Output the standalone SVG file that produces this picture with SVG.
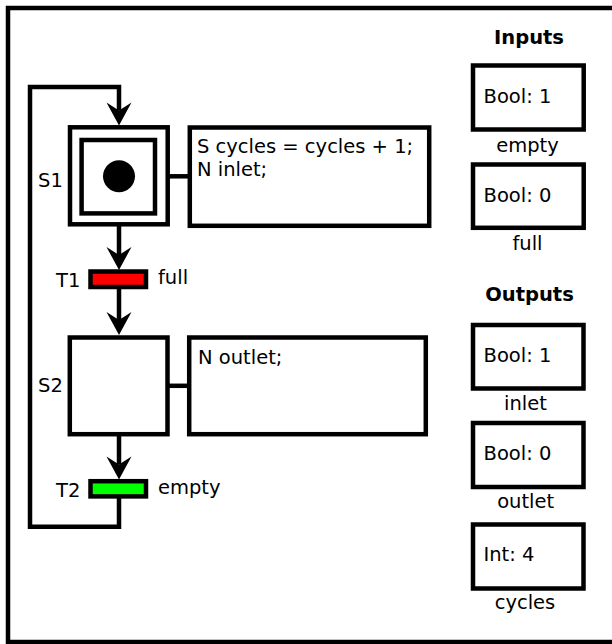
<svg xmlns="http://www.w3.org/2000/svg" width="612" height="644" viewBox="0 0 612 644">
<style>
  .box { fill: #ffffff; stroke: #000000; stroke-width: 4.5; }
  .ln { fill: none; stroke: #000000; stroke-width: 4.5; }
  .t { font-family: "DejaVu Sans", "Liberation Sans", sans-serif; font-size: 19.5px; fill: #000000; }
  .b { font-family: "DejaVu Sans", "Liberation Sans", sans-serif; font-size: 19.5px; font-weight: bold; fill: #000000; }
  .mid { text-anchor: middle; }
</style>
<defs>
  <marker id="arr" viewBox="-25 -14 27 28" refX="-15" refY="0" markerWidth="27" markerHeight="28" markerUnits="userSpaceOnUse" orient="auto">
    <path d="M0,0 L-23,-12.5 L-15,0 L-23,12.5 Z" fill="#000000"/>
  </marker>
</defs>
<rect x="0" y="0" width="612" height="644" fill="#ffffff"/>
<rect id="frame" class="box" x="8" y="8" width="620" height="634"/>

<g id="connectors">
  <path class="ln" d="M119,497 V526.7 H30 V87 H119 V110.5" marker-end="url(#arr)"/>
  <path class="ln" d="M119,226 V255" marker-end="url(#arr)"/>
  <path class="ln" d="M119,289 V320" marker-end="url(#arr)"/>
  <path class="ln" d="M119,435 V464.5" marker-end="url(#arr)"/>
  <path class="ln" d="M168,176.3 H190"/>
  <path class="ln" d="M167.5,385.8 H189"/>
</g>

<g id="S1">
  <rect class="box" x="70" y="127.3" width="97.7" height="97"/>
  <rect class="box" x="81.6" y="140" width="73.4" height="73.4"/>
  <circle cx="119" cy="176.3" r="16" fill="#000000"/>
  <text class="t" x="38" y="187">S1</text>
</g>
<g id="A1">
  <rect class="box" x="189.8" y="127.5" width="239.4" height="98.3"/>
  <text class="t" x="197" y="153">S cycles = cycles + 1;</text>
  <text class="t" x="197" y="176">N inlet;</text>
</g>

<g id="T1">
  <rect x="90.5" y="271.5" width="55.5" height="15.5" fill="#ff0000" stroke="#000000" stroke-width="4.5"/>
  <text class="t" x="56" y="287">T1</text>
  <text class="t" x="158" y="284">full</text>
</g>

<g id="S2">
  <rect class="box" x="69.8" y="337.5" width="97.7" height="96.7"/>
  <text class="t" x="38" y="392">S2</text>
</g>
<g id="A2">
  <rect class="box" x="189.2" y="337.5" width="236.6" height="96.7"/>
  <text class="t" x="198" y="364">N outlet;</text>
</g>

<g id="T2">
  <rect x="90.5" y="481.2" width="55.5" height="15.2" fill="#00ff00" stroke="#000000" stroke-width="4.5"/>
  <text class="t" x="56" y="497">T2</text>
  <text class="t" x="158" y="494">empty</text>
</g>

<text class="b mid" x="529" y="44">Inputs</text>
<g id="in-empty">
  <rect class="box" x="473" y="65.5" width="110.7" height="64"/>
  <text class="t" x="483.5" y="103.3">Bool: 1</text>
  <text class="t mid" x="527.5" y="151.7">empty</text>
</g>
<g id="in-full">
  <rect class="box" x="473" y="164.5" width="110.7" height="63.3"/>
  <text class="t" x="483.5" y="201.7">Bool: 0</text>
  <text class="t mid" x="527.5" y="250">full</text>
</g>

<text class="b mid" x="529.5" y="301">Outputs</text>
<g id="out-inlet">
  <rect class="box" x="473" y="325" width="110.5" height="63.5"/>
  <text class="t" x="483.5" y="361.7">Bool: 1</text>
  <text class="t mid" x="525.5" y="410">inlet</text>
</g>
<g id="out-outlet">
  <rect class="box" x="473" y="423" width="110.5" height="64"/>
  <text class="t" x="483.5" y="460">Bool: 0</text>
  <text class="t mid" x="525.7" y="508.3">outlet</text>
</g>
<g id="out-cycles">
  <rect class="box" x="473" y="524.5" width="110.5" height="64"/>
  <text class="t" x="483.5" y="560.7">Int: 4</text>
  <text class="t mid" x="525" y="609">cycles</text>
</g>
</svg>
